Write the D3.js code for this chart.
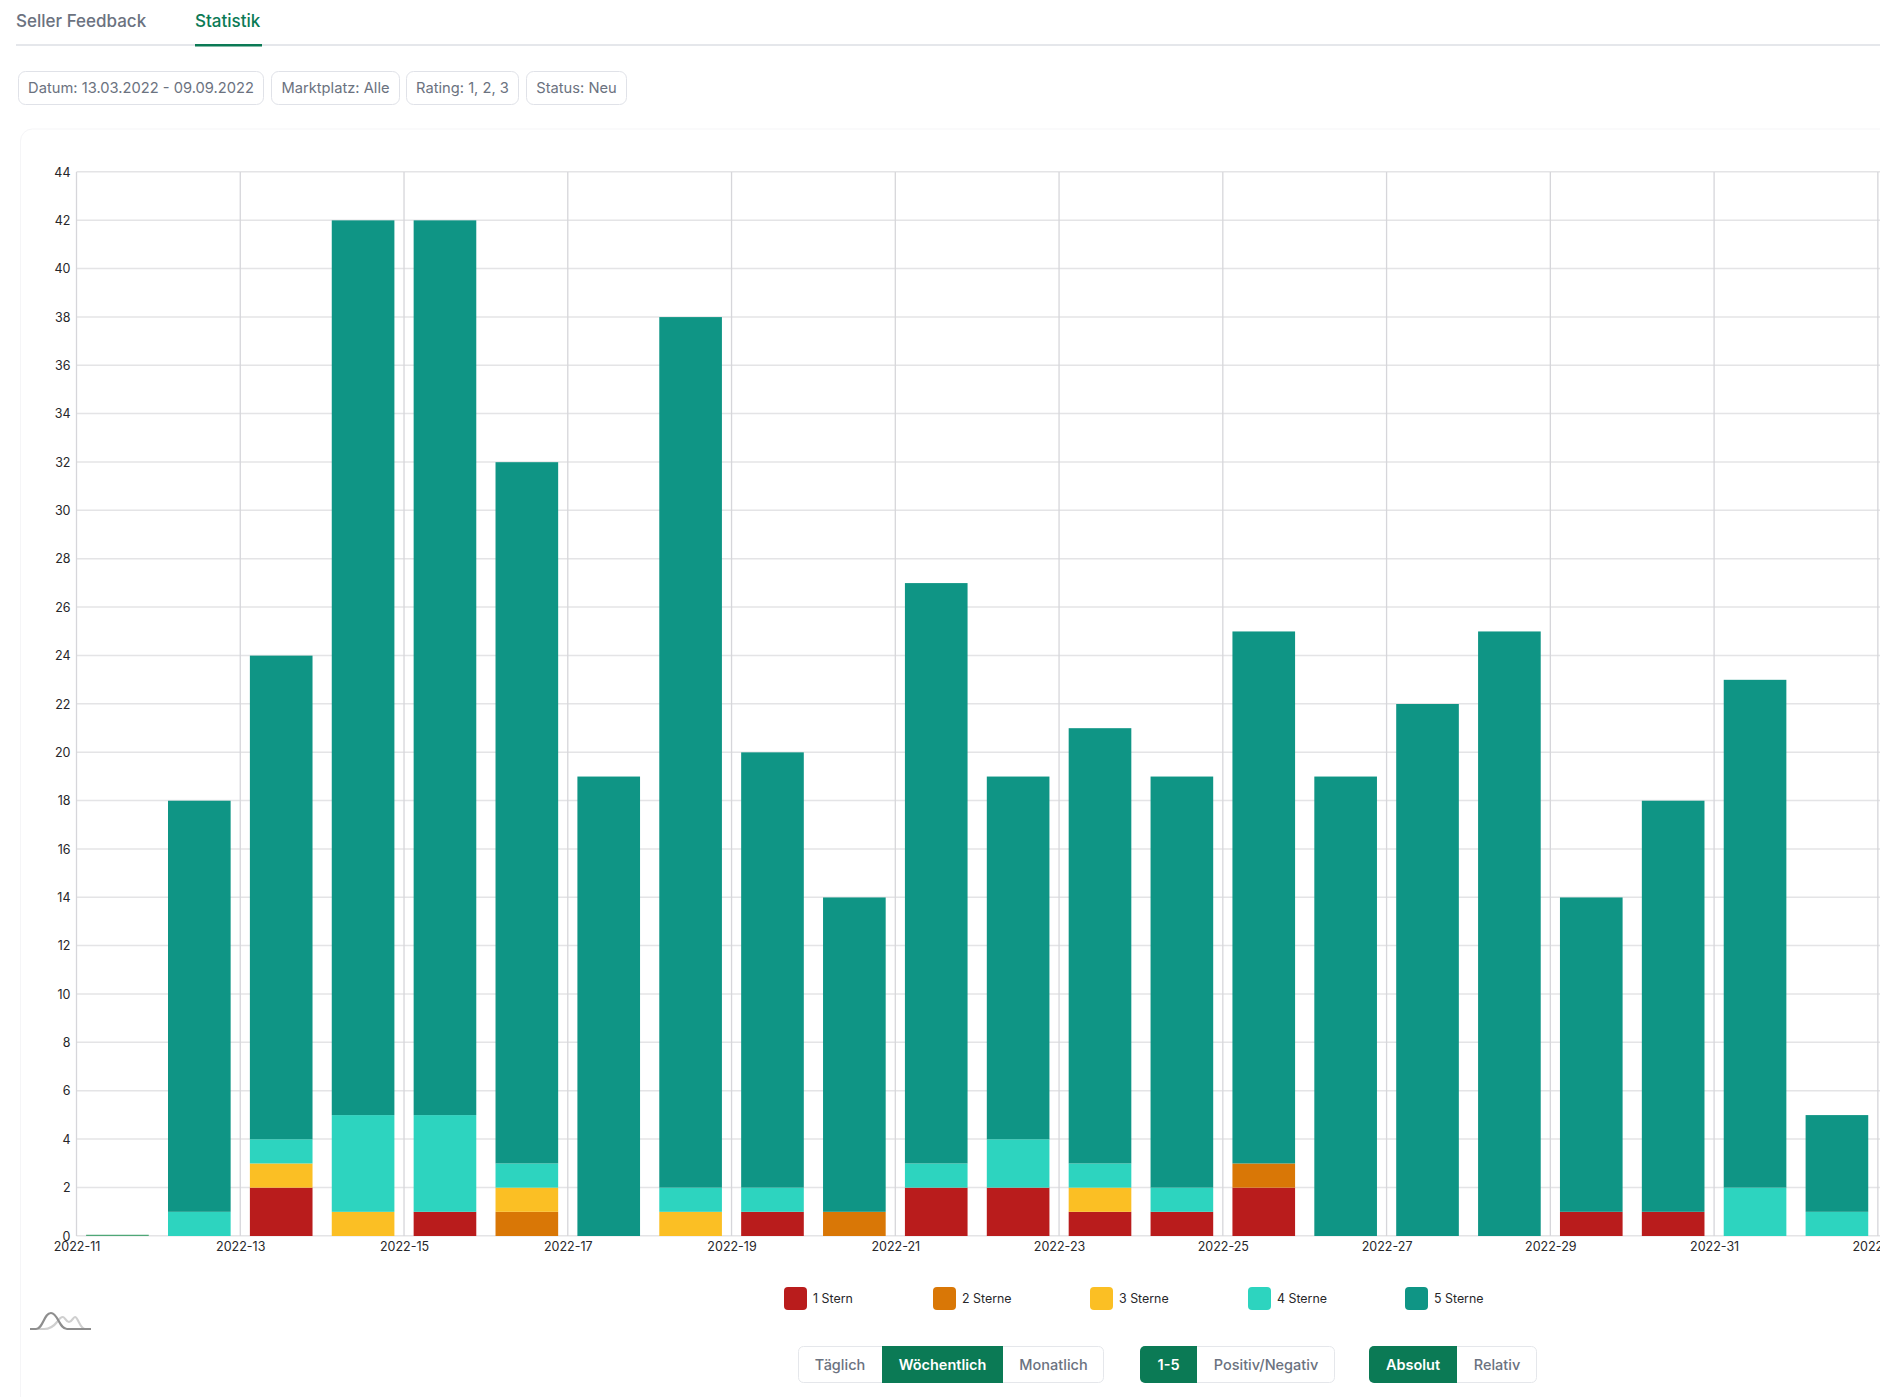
<!DOCTYPE html>
<html>
<head>
<meta charset="utf-8">
<script src="https://cdn.jsdelivr.net/npm/d3@7"></script>
<style>
  html, body { margin: 0; background: #fff; overflow: hidden; }
  text { font-family: Inter, "Noto Sans", sans-serif; }
</style>
</head>
<body>
<svg id="chart"></svg>
<script>
const weeks = ["2022-11","2022-12","2022-13","2022-14","2022-15","2022-16","2022-17","2022-18","2022-19","2022-20","2022-21","2022-22","2022-23","2022-24","2022-25","2022-26","2022-27","2022-28","2022-29","2022-30","2022-31","2022-32","2022-33"];
const stern1 = [0,0,2,0,1,0,0,0,1,0,2,2,1,1,2,0,0,0,1,1,0,0,0];
const stern2 = [0,0,0,0,0,1,0,0,0,1,0,0,0,0,1,0,0,0,0,0,0,0,0];
const stern3 = [0,0,1,1,0,1,0,1,0,0,0,0,1,0,0,0,0,0,0,0,0,0,0];
const stern4 = [0,1,1,4,4,1,0,1,1,0,1,2,1,1,0,0,0,0,0,0,2,1,0];
const stern5 = [0,17,20,37,37,29,19,36,18,13,24,15,18,17,22,19,22,25,13,17,21,4,0];
const seriesNames = ["1 Stern","2 Sterne","3 Sterne","4 Sterne","5 Sterne"];
const seriesColors = ["#b91c1c","#d97706","#fbbf24","#2dd4bf","#0f9585"];
const filterLabels = ["Datum: 13.03.2022 - 09.09.2022","Marktplatz: Alle","Rating: 1, 2, 3","Status: Neu"];
const yTicks = d3.range(0, 45, 2);

const green = "#0b7a55";
const svg = d3.select("#chart")
    .attr("width", 1880)
    .attr("height", 1397)
    .attr("viewBox", [0, 0, 1880, 1397]);

// tabs
svg.append("rect").attr("x", 16).attr("y", 44).attr("width", 1864).attr("height", 2).attr("fill", "#e5e7eb");
svg.append("rect").attr("x", 195).attr("y", 44).attr("width", 67).attr("height", 2.5).attr("fill", green);
svg.append("text").text("Seller Feedback").attr("x", 16).attr("y", 27).attr("font-size", 17).attr("font-weight", 500).attr("fill", "#6b7280");
svg.append("text").text("Statistik").attr("x", 195).attr("y", 27).attr("font-size", 17).attr("font-weight", 500).attr("fill", green);

// filter chips
const chipX = [[18,263],[271,399],[406,518],[526,626]];
const chips = svg.append("g");
filterLabels.forEach((label, i) => {
    chips.append("rect")
        .attr("x", chipX[i][0] + .5).attr("y", 71.5)
        .attr("width", chipX[i][1] - chipX[i][0]).attr("height", 33)
        .attr("rx", 7)
        .attr("fill", "#fff").attr("stroke", "#e0e2e8");
    chips.append("text").text(label)
        .attr("x", (chipX[i][0] + chipX[i][1]) / 2 + .5).attr("y", 92.5)
        .attr("text-anchor", "middle")
        .attr("font-size", 14.7).attr("fill", "#6b7280");
});

// card outline
svg.append("path")
    .attr("d", "M20.5 1397V141a12 12 0 0 1 12-12H1880")
    .attr("fill", "none").attr("stroke", "#f5f5f7");

// scales
const step = 81.88;
const x = d3.scaleBand().domain(weeks).range([76.5, 76.5 + step * weeks.length]).paddingInner(0.235).paddingOuter(0.1175);
const y = d3.scaleLinear().domain([0, 44]).range([1236, 172]);

// gridlines
svg.append("g").attr("stroke", "#e4e4e6").attr("stroke-width", 1.5)
    .attr("transform", "translate(0,-.2)")
    .selectAll("line").data(yTicks).join("line")
    .attr("x1", 76.5).attr("x2", 1880)
    .attr("y1", d => y(d)).attr("y2", d => y(d));

const tickWeeks = weeks.filter((d, i) => i % 2 == 0);
const tickX = d => x(d) - x.step() * x.paddingOuter();
svg.append("g").attr("stroke", "#d6d6da").attr("stroke-width", 1.3)
    .selectAll("line").data(tickWeeks).join("line")
    .attr("x1", tickX).attr("x2", tickX)
    .attr("y1", y(44)).attr("y2", y(0));

// bars
const rows = weeks.map((w, i) => ({
    week: w,
    "1 Stern": stern1[i], "2 Sterne": stern2[i], "3 Sterne": stern3[i], "4 Sterne": stern4[i], "5 Sterne": stern5[i]
}));
const stacked = d3.stack().keys(seriesNames)(rows);
svg.append("g").selectAll("g").data(stacked).join("g")
    .attr("fill", (d, i) => seriesColors[i])
    .selectAll("rect").data(d => d).join("rect")
    .attr("x", d => x(d.data.week))
    .attr("y", d => y(d[1]))
    .attr("width", x.bandwidth())
    .attr("height", d => y(d[0]) - y(d[1]));

// empty weeks still show a hairline in the chart
svg.append("g").selectAll("line")
    .data(rows.filter(r => seriesNames.every(s => r[s] == 0)))
    .join("line")
    .attr("x1", d => x(d.week)).attr("x2", d => x(d.week) + x.bandwidth())
    .attr("y1", y(0) - .6).attr("y2", y(0) - .6)
    .attr("stroke", "#4fa777").attr("stroke-width", 1.3);

// axes
const yAxis = svg.append("g")
    .attr("transform", "translate(70.5,0)")
    .call(d3.axisLeft(y).tickValues(yTicks).tickSize(0).tickPadding(0));
yAxis.select(".domain").remove();
const xAxis = svg.append("g")
    .attr("transform", `translate(0,${y(0) + 2})`)
    .call(d3.axisBottom(d3.scalePoint().domain(tickWeeks).range([tickX(tickWeeks[0]), tickX(tickWeeks[tickWeeks.length - 1])]))
        .tickSize(0).tickPadding(4));
xAxis.select(".domain").remove();
svg.selectAll(".tick text")
    .attr("font-family", "Inter, sans-serif")
    .attr("font-size", 12.5)
    .attr("fill", "#27272a");

// legend
const legendX = [784, 933, 1090, 1248, 1405];
const legend = svg.append("g").selectAll("g").data(seriesNames).join("g")
    .attr("transform", (d, i) => `translate(${legendX[i]},1287)`);
legend.append("rect")
    .attr("width", 23).attr("height", 23).attr("rx", 4)
    .attr("fill", (d, i) => seriesColors[i]);
legend.append("text").text(d => d)
    .attr("x", 29).attr("y", 15.5)
    .attr("font-size", 12.4).attr("fill", "#27272a");

// logo
const logo = svg.append("g").attr("fill", "none").attr("stroke-width", 2.2);
logo.append("path")
    .attr("d", "M36 1329H44C50 1329 54 1326 57 1322C59 1319 61 1317 63 1317C65 1317 66 1322 69 1322C72 1322 73 1317 75 1317C78 1317 80 1329 85 1329")
    .attr("stroke", "#cfcfcf");
logo.append("path")
    .attr("d", "M30 1329H36C43 1329 44 1313 51 1313C58 1313 59 1329 67 1329H91")
    .attr("stroke", "#8e8e8e");

// button groups
const buttonGroups = [
    { labels: ["Täglich","Wöchentlich","Monatlich"], edges: [798,882,1003,1104], active: 1 },
    { labels: ["1-5","Positiv/Negativ"], edges: [1140,1197,1335], active: 0 },
    { labels: ["Absolut","Relativ"], edges: [1369,1457,1537], active: 0 }
];
buttonGroups.forEach(group => {
    const g = svg.append("g");
    const left = group.edges[0], right = group.edges[group.edges.length - 1];
    const clipId = "clip" + left;
    svg.append("clipPath").attr("id", clipId).append("rect")
        .attr("x", left).attr("y", 1346).attr("width", right - left).attr("height", 37).attr("rx", 5);
    g.append("rect").attr("x", left + .5).attr("y", 1346.5).attr("width", right - left - 1).attr("height", 36)
        .attr("rx", 5).attr("fill", "#fff").attr("stroke", "#e5e7eb");
    group.labels.forEach((label, i) => {
        const a = group.edges[i], b = group.edges[i + 1];
        const on = i == group.active;
        if (on) {
            g.append("rect").attr("x", a).attr("y", 1346).attr("width", b - a).attr("height", 37)
                .attr("fill", green).attr("clip-path", `url(#${clipId})`);
        }
        g.append("text").text(label)
            .attr("x", (a + b) / 2).attr("y", 1370)
            .attr("text-anchor", "middle")
            .attr("font-size", 14.5).attr("font-weight", on ? 600 : 500)
            .attr("fill", on ? "#fff" : "#6b7280");
    });
});
</script>
</body>
</html>
